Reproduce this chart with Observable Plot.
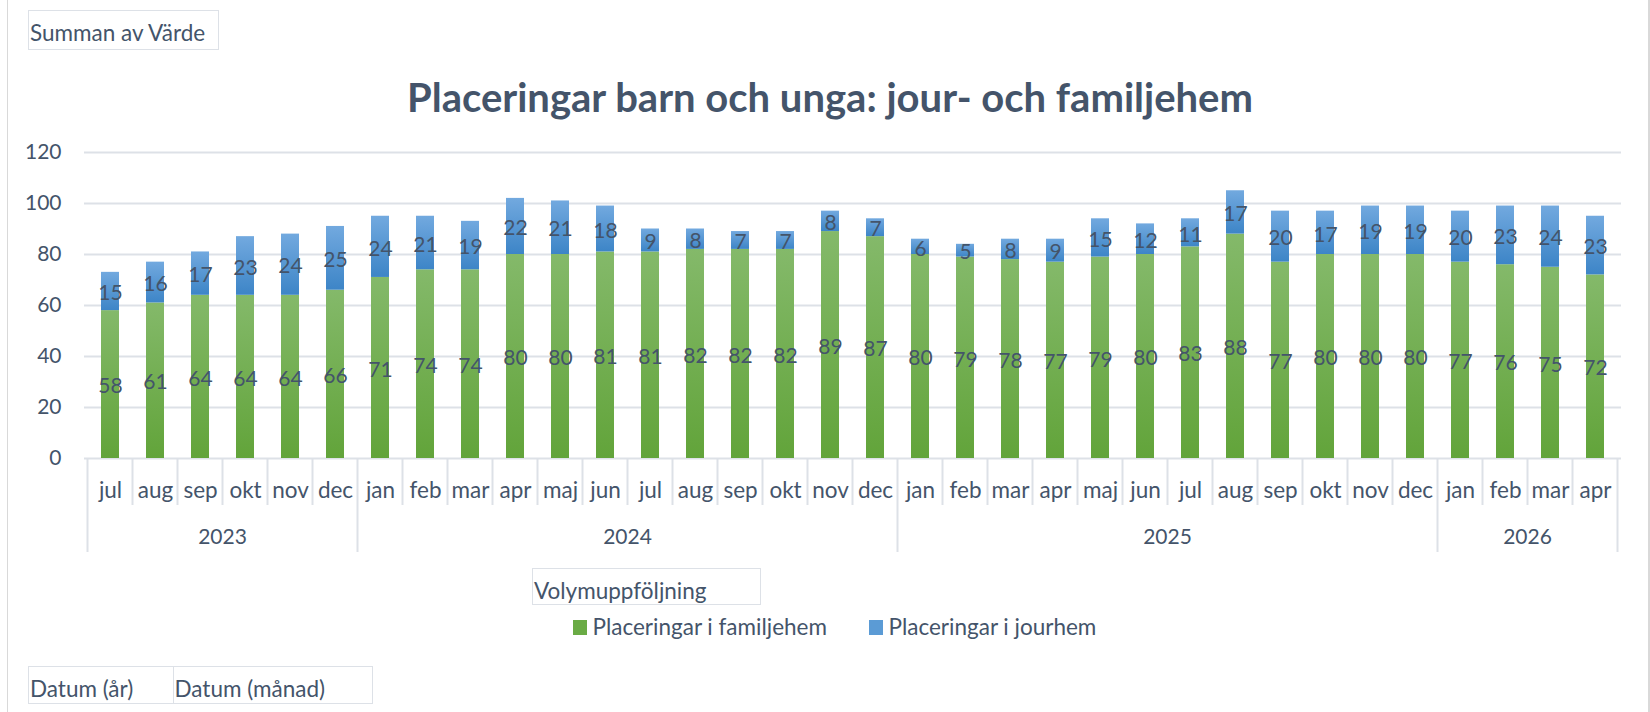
<!DOCTYPE html>
<html>
<head>
<meta charset="utf-8">
<script src="https://cdn.jsdelivr.net/npm/d3@7"></script>
<script src="https://cdn.jsdelivr.net/npm/@observablehq/plot@0.6"></script>
<style>
  body { margin: 0; background: #fff; }
  #wrap { position: relative; width: 1650px; height: 712px; overflow: hidden; background: #fff;
          font-family: Lato, "Open Sans", sans-serif; color: #44546a; }
  #chart { position: absolute; left: 0; top: 0; }
  .box { position: absolute; border: 1.5px solid #dde1e7; box-sizing: border-box; font-size: 22.5px;
         line-height: 1; white-space: nowrap; }
  .box span { position: absolute; left: 1px; }
  .vline { position: absolute; top: 0; width: 1.5px; height: 712px; background: #d9d9d9; }
  #title { position: absolute; left: 0; width: 1660px; top: 72.5px; text-align: center;
           font-size: 40px; font-weight: 700; line-height: 48px; white-space: nowrap; }
  .leg { position: absolute; top: 613px; font-size: 22.5px; line-height: 27px; white-space: nowrap; }
  .sw { display: inline-block; width: 14px; height: 15px; margin-right: 6px; }
</style>
</head>
<body>
<div id="wrap">
  <div class="vline" style="left:6.5px"></div>
  <div class="vline" style="left:1648px"></div>
  <div id="chart"></div>
  <div class="box" style="left:28px;top:9.5px;width:191px;height:40px"><span style="bottom:4.5px">Summan av Värde</span></div>
  <div id="title"></div>
  <div class="box" style="left:532px;top:568px;width:229px;height:37px"><span style="bottom:2px">Volymuppföljning</span></div>
  <div id="legend"></div>
  <div class="box" style="left:28px;top:666px;width:146px;height:38px"><span style="bottom:3px">Datum (år)</span></div>
  <div class="box" style="left:172.5px;top:666px;width:200px;height:38px"><span style="bottom:3px">Datum (månad)</span></div>
</div>
<script>
const title = "Placeringar barn och unga: jour- och familjehem";
const seriesNames = ["Placeringar i familjehem", "Placeringar i jourhem"];
const months = ["jul","aug","sep","okt","nov","dec",
  "jan","feb","mar","apr","maj","jun","jul","aug","sep","okt","nov","dec",
  "jan","feb","mar","apr","maj","jun","jul","aug","sep","okt","nov","dec",
  "jan","feb","mar","apr"];
const years = [2023,2023,2023,2023,2023,2023,
  2024,2024,2024,2024,2024,2024,2024,2024,2024,2024,2024,2024,
  2025,2025,2025,2025,2025,2025,2025,2025,2025,2025,2025,2025,
  2026,2026,2026,2026];
const familjehem = [58,61,64,64,64,66, 71,74,74,80,80,81,81,82,82,82,89,87,
  80,79,78,77,79,80,83,88,77,80,80,80, 77,76,75,72];
const jourhem = [15,16,17,23,24,25, 24,21,19,22,21,18,9,8,7,7,8,7,
  6,5,8,9,15,12,11,17,20,17,19,19, 20,23,24,23];
const yTicks = [0,20,40,60,80,100,120];
const seriesColors = ["url(#gGreen)", "url(#gBlue)"];
const swatchColors = ["#6aab45", "#5b9bd5"];

document.getElementById("title").textContent = title;
document.getElementById("legend").innerHTML =
  `<div class="leg" style="left:572.5px"><span class="sw" style="background:${swatchColors[0]}"></span>${seriesNames[0]}</div>` +
  `<div class="leg" style="left:868.5px"><span class="sw" style="background:${swatchColors[1]}"></span>${seriesNames[1]}</div>`;

const keys = months.map((m, i) => `${years[i]}-${i}-${m}`);
const data = [
  ...familjehem.map((v, i) => ({key: keys[i], series: seriesNames[0], value: v})),
  ...jourhem.map((v, i) => ({key: keys[i], series: seriesNames[1], value: v}))
];
const monthData = keys.map((k, i) => ({key: k, month: months[i]}));

const textColor = "#44546a";
const gridColor = "#dde1e7";
const font = "Lato, 'Open Sans', sans-serif";

const plot = Plot.plot({
  width: 1650, height: 712,
  marginLeft: 84, marginRight: 29, marginTop: 152, marginBottom: 254,
  style: {fontFamily: font, color: textColor, overflow: "visible", background: "transparent"},
  x: {domain: keys, paddingInner: 0.6, paddingOuter: 0.3, axis: null},
  y: {domain: [0, 120]},
  color: {domain: seriesNames, range: seriesColors},
  marks: [
    Plot.ruleY(yTicks, {stroke: gridColor, strokeWidth: 2}),
    Plot.axisY({ticks: yTicks, tickSize: 0, tickPadding: 23, fontSize: 21, label: null, fill: textColor}),
    Plot.barY(data, Plot.stackY({x: "key", y: "value", z: "series", fill: "series", order: null})),
    Plot.text(data, Plot.stackY({x: "key", y: "value", z: "series", text: "value", order: null,
      fill: textColor, fontSize: 21, dy: 2})),
    Plot.text(monthData, {x: "key", y: () => 0, text: "month", dy: 32, fill: textColor, fontSize: 22.5})
  ]
});

document.getElementById("chart").appendChild(plot);

const svg = d3.select(plot);
const defs = svg.insert("defs", ":first-child");
const g1 = defs.append("linearGradient").attr("id", "gGreen").attr("x1", 0).attr("y1", 0).attr("x2", 0).attr("y2", 1);
g1.append("stop").attr("offset", "0%").attr("stop-color", "#84b96a");
g1.append("stop").attr("offset", "100%").attr("stop-color", "#62a43a");
const g2 = defs.append("linearGradient").attr("id", "gBlue").attr("x1", 0).attr("y1", 0).attr("x2", 0).attr("y2", 1);
g2.append("stop").attr("offset", "0%").attr("stop-color", "#72a9df");
g2.append("stop").attr("offset", "100%").attr("stop-color", "#3d85c7");

// Two-level category axis using the plot's own scales
const xs = plot.scale("x");
const ys = plot.scale("y");
const bw = xs.bandwidth;
const step = xs.step;
const off = (step - bw) / 2;
const y0 = ys.apply(0);
const layer = svg.append("g").attr("stroke", gridColor).attr("stroke-width", 2);
const txt = svg.append("g").attr("fill", textColor).attr("font-size", 21)
  .attr("font-family", font).attr("text-anchor", "middle");
for (let i = 0; i <= keys.length; i++) {
  const x = i < keys.length ? xs.apply(keys[i]) - off : xs.apply(keys[i - 1]) + bw + off;
  const yearEdge = i === 0 || i === keys.length || years[i] !== years[i - 1];
  layer.append("line").attr("x1", x).attr("x2", x).attr("y1", y0)
    .attr("y2", y0 + (yearEdge ? 94 : 47));
}
const uniqYears = [...new Set(years)];
for (const yr of uniqYears) {
  const idx = years.map((y, i) => y === yr ? i : -1).filter(i => i >= 0);
  const left = xs.apply(keys[idx[0]]) - off;
  const right = xs.apply(keys[idx[idx.length - 1]]) + bw + off;
  txt.append("text").attr("x", (left + right) / 2).attr("y", y0 + 86).text(yr);
}
</script>
</body>
</html>
